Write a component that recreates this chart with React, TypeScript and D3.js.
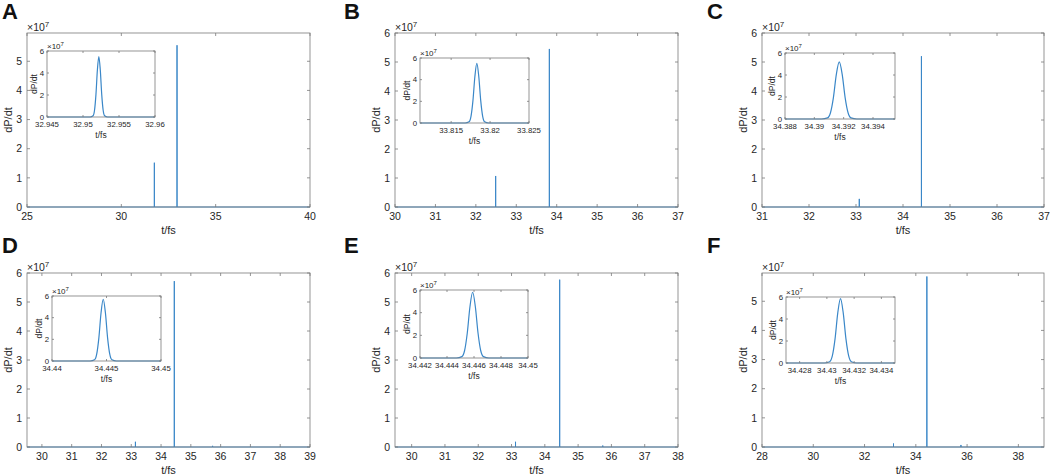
import * as d3 from "d3";

// main plots: x range, x ticks, y max (units of 1e7), spike positions / heights
const xDomainA = [25, 40];
const xTicksA = [25, 30, 35, 40];
const spikeTA = [31.75, 32.952];
const spikeVA = [1.52, 5.55];

const xDomainB = [30, 37];
const xTicksB = [30, 31, 32, 33, 34, 35, 36, 37];
const spikeTB = [32.49, 33.818];
const spikeVB = [1.07, 5.45];

const xDomainC = [31, 37];
const xTicksC = [31, 32, 33, 34, 35, 36, 37];
const spikeTC = [33.07, 34.392];
const spikeVC = [0.28, 5.2];

const xDomainD = [29.5, 39];
const xTicksD = [30, 31, 32, 33, 34, 35, 36, 37, 38, 39];
const spikeTD = [33.14, 34.445, 35.73];
const spikeVD = [0.18, 5.72, 0.04];

const xDomainE = [29.5, 38];
const xTicksE = [30, 31, 32, 33, 34, 35, 36, 37, 38];
const spikeTE = [33.12, 34.446, 35.74];
const spikeVE = [0.18, 5.77, 0.05];

const xDomainF = [28, 39];
const xTicksF = [28, 30, 32, 34, 36, 38];
const spikeTF = [33.13, 34.431, 35.76];
const spikeVF = [0.12, 5.85, 0.07];

const yTicks5 = [0, 1, 2, 3, 4, 5];
const yTicks6 = [0, 1, 2, 3, 4, 5, 6];

// insets: zoom on the main peak
const insetDomainA = [32.945, 32.96];
const insetTicksA = [32.945, 32.95, 32.955, 32.96];
const insetTA = [32.945, 32.951, 32.9514, 32.9516, 32.9518, 32.952, 32.9522, 32.9524, 32.9526, 32.9528, 32.953, 32.9534, 32.96];
const insetVA = [0, 0, 0.11, 0.61, 2.06, 4.29, 5.5, 4.29, 2.06, 0.61, 0.11, 0, 0];

const insetDomainB = [33.811, 33.825];
const insetTicksB = [33.815, 33.82, 33.825];
const insetTB = [33.811, 33.8168, 33.8173, 33.81755, 33.8178, 33.81805, 33.8183, 33.81855, 33.8188, 33.81905, 33.8193, 33.8198, 33.825];
const insetVB = [0, 0, 0.11, 0.61, 2.06, 4.29, 5.5, 4.29, 2.06, 0.61, 0.11, 0, 0];

const insetDomainC = [34.388, 34.3955];
const insetTicksC = [34.388, 34.39, 34.392, 34.394];
const insetTC = [34.388, 34.3905, 34.3909, 34.3911, 34.3913, 34.3915, 34.3917, 34.3919, 34.3921, 34.3923, 34.3925, 34.3929, 34.3955];
const insetVC = [0, 0, 0.1, 0.57, 1.95, 4.06, 5.2, 4.06, 1.95, 0.57, 0.1, 0, 0];

const insetDomainD = [34.44, 34.45];
const insetTicksD = [34.44, 34.445, 34.45];
const insetTD = [34.44, 34.4435, 34.4439, 34.4441, 34.4443, 34.4445, 34.4447, 34.4449, 34.4451, 34.4453, 34.4455, 34.4459, 34.45];
const insetVD = [0, 0, 0.11, 0.63, 2.14, 4.45, 5.7, 4.45, 2.14, 0.63, 0.11, 0, 0];

const insetDomainE = [34.442, 34.45];
const insetTicksE = [34.442, 34.444, 34.446, 34.448, 34.45];
const insetTE = [34.442, 34.4447, 34.4451, 34.4453, 34.4455, 34.4457, 34.4459, 34.4461, 34.4463, 34.4465, 34.4467, 34.4471, 34.45];
const insetVE = [0, 0, 0.12, 0.64, 2.18, 4.52, 5.8, 4.52, 2.18, 0.64, 0.12, 0, 0];

const insetDomainF = [34.427, 34.435];
const insetTicksF = [34.428, 34.43, 34.432, 34.434];
const insetTF = [34.427, 34.4298, 34.4302, 34.4304, 34.4306, 34.4308, 34.431, 34.4312, 34.4314, 34.4316, 34.4318, 34.4322, 34.435];
const insetVF = [0, 0, 0.12, 0.64, 2.19, 4.56, 5.85, 4.56, 2.19, 0.64, 0.12, 0, 0];

const insetYTicks = [0, 2, 4, 6];

const FONT = "Arial, 'Liberation Sans', Helvetica, sans-serif";
const LINE = "#3a87c8";
const AXIS = "#7a7a7a";
const TEXT = "#262626";

type Box = { x0: number; y0: number; x1: number; y1: number };

const panels = [
  {
    letter: "A", lx: 2, ly: 19,
    main: { x0: 27, y0: 33, x1: 310, y1: 207 }, inset: { x0: 47, y0: 51, x1: 155, y1: 117 },
    xDomain: xDomainA, xTicks: xTicksA, yMax: 5.97, yTicks: yTicks5, spikeT: spikeTA, spikeV: spikeVA,
    iDomain: insetDomainA, iTicks: insetTicksA, iT: insetTA, iV: insetVA,
  },
  {
    letter: "B", lx: 344, ly: 19,
    main: { x0: 395, y0: 33, x1: 678, y1: 207 }, inset: { x0: 420, y0: 58, x1: 529, y1: 123 },
    xDomain: xDomainB, xTicks: xTicksB, yMax: 6, yTicks: yTicks6, spikeT: spikeTB, spikeV: spikeVB,
    iDomain: insetDomainB, iTicks: insetTicksB, iT: insetTB, iV: insetVB,
  },
  {
    letter: "C", lx: 707, ly: 19,
    main: { x0: 762, y0: 33, x1: 1044, y1: 207 }, inset: { x0: 785, y0: 53, x1: 895, y1: 119 },
    xDomain: xDomainC, xTicks: xTicksC, yMax: 6, yTicks: yTicks6, spikeT: spikeTC, spikeV: spikeVC,
    iDomain: insetDomainC, iTicks: insetTicksC, iT: insetTC, iV: insetVC,
  },
  {
    letter: "D", lx: 2, ly: 253,
    main: { x0: 27, y0: 273, x1: 310, y1: 447 }, inset: { x0: 52, y0: 296, x1: 161, y1: 361 },
    xDomain: xDomainD, xTicks: xTicksD, yMax: 6, yTicks: yTicks6, spikeT: spikeTD, spikeV: spikeVD,
    iDomain: insetDomainD, iTicks: insetTicksD, iT: insetTD, iV: insetVD,
  },
  {
    letter: "E", lx: 344, ly: 253,
    main: { x0: 395, y0: 273, x1: 678, y1: 447 }, inset: { x0: 420, y0: 290, x1: 528, y1: 358 },
    xDomain: xDomainE, xTicks: xTicksE, yMax: 6, yTicks: yTicks6, spikeT: spikeTE, spikeV: spikeVE,
    iDomain: insetDomainE, iTicks: insetTicksE, iT: insetTE, iV: insetVE,
  },
  {
    letter: "F", lx: 707, ly: 253,
    main: { x0: 762, y0: 273, x1: 1044, y1: 447 }, inset: { x0: 786, y0: 297, x1: 895, y1: 363 },
    xDomain: xDomainF, xTicks: xTicksF, yMax: 5.97, yTicks: yTicks5, spikeT: spikeTF, spikeV: spikeVF,
    iDomain: insetDomainF, iTicks: insetTicksF, iT: insetTF, iV: insetVF,
  },
];

function Axes({
  box, xDomain, xTicks, yMax, yTicks, points, small,
}: {
  box: Box; xDomain: number[]; xTicks: number[]; yMax: number; yTicks: number[];
  points: [number, number][]; small: boolean;
}) {
  const x = d3.scaleLinear().domain(xDomain).range([box.x0, box.x1]);
  const y = d3.scaleLinear().domain([0, yMax]).range([box.y1, box.y0]);
  const gen = d3.line<[number, number]>().x((d) => x(d[0])).y((d) => y(d[1]));
  if (small) gen.curve(d3.curveMonotoneX);
  const fs = small ? 7.8 : 10.5;
  const tl = small ? 2 : 3;
  const w = box.x1 - box.x0;
  const h = box.y1 - box.y0;
  const cx = (box.x0 + box.x1) / 2;
  const cy = (box.y0 + box.y1) / 2;
  return (
    <g fontFamily={FONT} fill={TEXT}>
      <rect x={box.x0} y={box.y0} width={w} height={h} fill="white" />
      <path d={gen(points) ?? ""} fill="none" stroke={LINE} strokeWidth={small ? 1.2 : 1} />
      {xTicks.map((t) => (
        <g key={"x" + t}>
          <line x1={x(t)} x2={x(t)} y1={box.y1} y2={box.y1 - tl} stroke={AXIS} strokeWidth={0.8} />
          <line x1={x(t)} x2={x(t)} y1={box.y0} y2={box.y0 + tl} stroke={AXIS} strokeWidth={0.8} />
          <text x={x(t)} y={box.y1 + (small ? 10 : 13)} textAnchor="middle" fontSize={fs}>
            {String(t)}
          </text>
        </g>
      ))}
      {yTicks.map((t) => (
        <g key={"y" + t}>
          <line x1={box.x0} x2={box.x0 + tl} y1={y(t)} y2={y(t)} stroke={AXIS} strokeWidth={0.8} />
          <line x1={box.x1} x2={box.x1 - tl} y1={y(t)} y2={y(t)} stroke={AXIS} strokeWidth={0.8} />
          <text x={box.x0 - (small ? 3 : 5)} y={y(t)} dy="0.35em" textAnchor="end" fontSize={fs}>
            {String(t)}
          </text>
        </g>
      ))}
      <rect x={box.x0} y={box.y0} width={w} height={h} fill="none" stroke={AXIS} strokeWidth={0.8} />
      <text x={box.x0} y={box.y0 - 2} fontSize={small ? 8 : 10.5}>
        ×10<tspan dy={small ? -3 : -4} fontSize={small ? 6 : 8}>7</tspan>
      </text>
      <text x={cx} y={box.y1 + (small ? 21 : 27)} textAnchor="middle" fontSize={small ? 8.5 : 11}>
        t/fs
      </text>
      <text
        transform={`translate(${box.x0 - (small ? 10 : 15)},${cy}) rotate(-90)`}
        textAnchor="middle"
        fontSize={small ? 8.5 : 11}
      >
        dP/dt
      </text>
    </g>
  );
}

export default function App() {
  return (
    <svg
      width={1052}
      height={476}
      viewBox="0 0 1052 476"
      style={{ position: "absolute", left: 0, top: 0, background: "white" }}
    >
      <rect width={1052} height={476} fill="white" />
      {panels.map((p) => {
        const spikes: [number, number][] = [[p.xDomain[0], 0]];
        p.spikeT.forEach((t, i) => {
          spikes.push([t, 0], [t, p.spikeV[i]], [t, 0]);
        });
        spikes.push([p.xDomain[1], 0]);
        const peak: [number, number][] = p.iT.map((t, i) => [t, p.iV[i]]);
        return (
          <g key={p.letter}>
            <Axes box={p.main} xDomain={p.xDomain} xTicks={p.xTicks} yMax={p.yMax} yTicks={p.yTicks} points={spikes} small={false} />
            <Axes box={p.inset} xDomain={p.iDomain} xTicks={p.iTicks} yMax={6} yTicks={insetYTicks} points={peak} small />
            <text x={p.lx} y={p.ly} fontFamily={FONT} fontWeight="bold" fontSize={22} fill="#111">
              {p.letter}
            </text>
          </g>
        );
      })}
    </svg>
  );
}
